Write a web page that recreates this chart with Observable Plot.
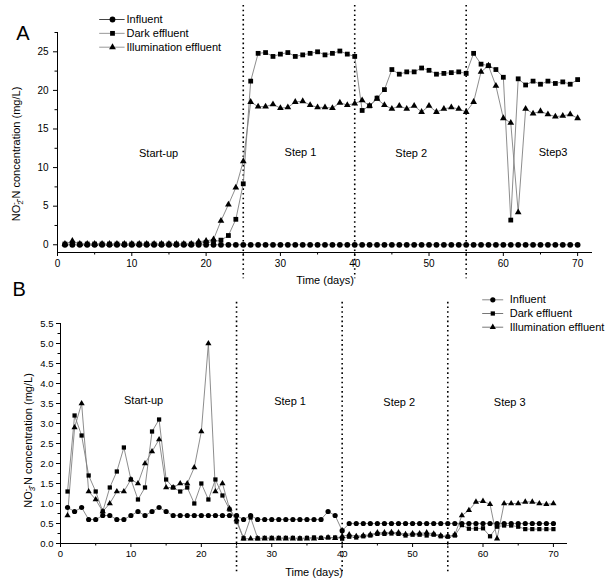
<!DOCTYPE html>
<html><head><meta charset="utf-8">
<script src="https://cdn.jsdelivr.net/npm/d3@7"></script>
<script src="https://cdn.jsdelivr.net/npm/@observablehq/plot@0.6"></script>
<style>
body{margin:0;background:#fff;font-family:"Liberation Sans",Arial,sans-serif;}
#chart{width:614px;height:584px;}
#chart svg{overflow:visible;}
</style></head><body><div id="chart"></div>
<script>
// ---------- data ----------
const days = d3.range(1, 71);
const seriesNames = ["Influent", "Dark effluent", "Illumination effluent"];
const seriesSymbols = ["circle", "square", "triangle"];
const phaseBoundaries = [25, 40, 55];

// Panel A: NO2--N (mg/L)
const influentA = [0,0,0,0,0,0,0,0,0,0,0,0,0,0,0,0,0,0,0,0,0,0,0,0,0,0,0,0,0,0,0,0,0,0,0,0,0,0,0,0,0,0,0,0,0,0,0,0,0,0,0,0,0,0,0,0,0,0,0,0,0,0,0,0,0,0,0,0,0,0];
const darkA = [0.1,0.1,0.1,0.1,0.1,0.1,0.1,0.1,0.1,0.1,0.1,0.1,0.1,0.1,0.1,0.1,0.1,0.1,0.2,0.3,0.4,0.6,1.2,3.3,7.9,
  21.2,24.8,24.9,24.4,24.7,24.9,24.4,24.6,24.8,25.0,24.6,24.8,25.1,24.7,24.4,
  17.4,18.0,19.0,20.1,22.7,22.1,22.4,22.4,22.9,22.6,22.1,22.2,22.3,22.4,22.2,
  24.8,23.4,23.2,22.7,21.7,3.2,21.5,20.7,21.2,20.8,21.2,20.9,21.1,20.8,21.4];
const illumA = [0.1,0.5,0.1,0.1,0.1,0.1,0.1,0.1,0.1,0.1,0.1,0.1,0.1,0.1,0.1,0.1,0.1,0.1,0.4,0.5,0.7,3.1,5.2,7.4,10.8,
  18.5,17.9,17.9,18.2,17.7,17.8,18.5,18.6,18.1,17.8,17.8,17.7,18.4,18.1,18.3,
  18.7,18.0,18.9,18.1,17.6,18.0,17.6,18.0,17.2,18.0,17.2,17.6,17.8,17.6,17.2,
  18.5,22.4,23.2,20.6,16.4,15.8,4.2,17.6,17.0,17.3,16.9,16.6,16.7,16.9,16.4];

// Panel B: NO3--N (mg/L)
const influentB = [0.9,0.8,0.9,0.6,0.6,0.7,0.7,0.6,0.6,0.7,0.8,0.7,0.8,0.9,0.8,0.7,0.7,0.7,0.7,0.7,0.7,0.7,0.7,0.7,0.7,
  0.6,0.7,0.6,0.6,0.6,0.6,0.6,0.6,0.6,0.6,0.6,0.6,0.8,0.7,0.32,
  0.5,0.5,0.5,0.5,0.5,0.5,0.5,0.5,0.5,0.5,0.5,0.5,0.5,0.5,0.5,
  0.5,0.5,0.5,0.5,0.5,0.5,0.5,0.5,0.5,0.5,0.5,0.5,0.5,0.5,0.5];
const darkB = [1.3,3.2,2.7,1.7,1.3,0.8,1.4,1.8,2.4,1.6,1.1,1.4,2.8,3.1,1.6,1.4,1.3,1.4,1.0,1.5,1.1,1.6,1.2,0.85,0.55,
  0.13,0.65,0.13,0.14,0.14,0.14,0.14,0.14,0.13,0.14,0.15,0.14,0.15,0.15,0.12,
  0.17,0.15,0.18,0.2,0.24,0.24,0.25,0.24,0.2,0.22,0.22,0.2,0.22,0.18,0.17,
  0.2,0.46,0.37,0.37,0.38,0.18,0.42,0.45,0.45,0.42,0.36,0.36,0.36,0.36,0.36];
const illumB = [0.7,2.9,3.5,1.3,1.1,0.8,1.0,1.3,1.3,1.6,1.5,2.0,2.3,2.6,1.4,1.4,1.5,1.5,1.9,2.8,5.0,1.3,1.5,0.87,0.6,
  0.12,0.12,0.12,0.12,0.12,0.12,0.12,0.12,0.12,0.12,0.12,0.13,0.15,0.13,0.18,
  0.22,0.18,0.2,0.22,0.27,0.27,0.28,0.27,0.23,0.25,0.25,0.27,0.24,0.2,0.18,
  0.22,0.7,0.83,1.04,1.06,0.98,0.12,1.0,1.0,1.0,1.04,1.04,1.0,0.98,1.0];

const xTicks = [0, 10, 20, 30, 40, 50, 60, 70];
const xMinorTicks = [5, 15, 25, 35, 45, 55, 65];
const yTicksA = [0, 5, 10, 15, 20, 25];
const yMinorA = [2.5, 7.5, 12.5, 17.5, 22.5, 27.5];
const yTicksB = [0, 0.5, 1, 1.5, 2, 2.5, 3, 3.5, 4, 4.5, 5, 5.5];
const yMinorB = [0.25, 0.75, 1.25, 1.75, 2.25, 2.75, 3.25, 3.75, 4.25, 4.75, 5.25];

const phaseNamesA = ["Start-up", "Step 1", "Step 2", "Step3"];
const phaseNamesB = ["Start-up", "Step 1", "Step 2", "Step 3"];

// annotation placement (data coordinates)
const phaseLabelsA = phaseNamesA.map((t, i) => ({t, x: [13.6, 32.7, 47.6, 66.7][i], y: [11.8, 12.0, 11.8, 11.9][i]}));
const phaseLabelsB = phaseNamesB.map((t, i) => ({t, x: [11.8, 32.6, 48.1, 63.8][i], y: [3.58, 3.55, 3.53, 3.53][i]}));

const FONT = "Liberation Sans, Arial, Helvetica, sans-serif";
const hline = half => ({draw(ctx) { ctx.moveTo(-half, 0); ctx.lineTo(half, 0); }});
const centered = {textAnchor: "middle", lineAnchor: "middle"};

function panel(o) {
  const data = o.series.flatMap((vals, k) => vals.map((v, i) => ({day: days[i], value: v, k})));
  const marks = [
    Plot.ruleX(phaseBoundaries, {y1: o.dotY[0], y2: o.dotY[1], stroke: "black", strokeWidth: 1.6, strokeDasharray: "1.6,3.1"}),
    Plot.ruleY([o.yDomain[0]], {stroke: "black", strokeWidth: 1}),
    Plot.ruleX([o.xDomain[0]], {stroke: "black", strokeWidth: 1}),
    Plot.axisX({ticks: xTicks, tickSize: 4, tickPadding: 3, fontSize: o.tickFont, label: null, tickFormat: d => d}),
    Plot.axisX({ticks: xMinorTicks, tickSize: 2.5, tickFormat: () => "", label: null}),
    Plot.axisY({ticks: o.yTicks, tickSize: 4, tickPadding: o.yPad, fontSize: o.tickFont, label: null, tickFormat: o.yFormat}),
    Plot.axisY({ticks: o.yMinor, tickSize: 2.5, tickFormat: () => "", label: null}),
    ...seriesNames.map((n, k) => Plot.line(data.filter(d => d.k === k), {x: "day", y: "value", stroke: "#808080", strokeWidth: 0.9})),
    ...seriesNames.map((n, k) => Plot.dot(data.filter(d => d.k === k), {x: "day", y: "value", symbol: seriesSymbols[k], r: o.r[k], fill: "black", stroke: "none"})),
    Plot.text(o.phaseLabels, {x: "x", y: "y", text: "t", fontSize: 11, fill: "black", ...centered}),
    Plot.text(["Time (days)"], {frameAnchor: "bottom", dy: o.xTitleDy, text: d => d, fontSize: 11, ...centered}),
    Plot.text([o.yTitle], {frameAnchor: "left", dx: o.yTitlePos[0], dy: o.yTitlePos[1], rotate: -90, text: d => d, fontSize: 11, ...centered}),
    Plot.text([o.letter], {frameAnchor: "top-left", dx: o.letterPos[0], dy: o.letterPos[1], text: d => d, fontSize: 20, ...centered})
  ];
  seriesNames.forEach((name, k) => {
    const dy = o.legend.y0 + o.legend.step * k;
    marks.push(
      Plot.dot([name], {frameAnchor: o.legend.anchor, dx: o.legend.lineX, dy, symbol: hline(o.legend.half), r: 1, fill: "none", stroke: o.legend.lineColors[k], strokeWidth: 1}),
      Plot.dot([name], {frameAnchor: o.legend.anchor, dx: o.legend.markX, dy, symbol: seriesSymbols[k], r: o.r[k], fill: "black", stroke: "none"}),
      Plot.text([name], {frameAnchor: o.legend.anchor, dx: o.legend.textX, dy, text: d => d, textAnchor: "start", lineAnchor: "middle", fontSize: 11})
    );
  });
  const svg = Plot.plot({
    width: 614, height: o.height,
    marginLeft: o.m[0], marginRight: o.m[1], marginTop: o.m[2], marginBottom: o.m[3],
    x: {domain: o.xDomain},
    y: {domain: o.yDomain},
    style: {fontFamily: FONT, background: "transparent", overflow: "visible", color: "black"},
    marks
  });
  // chemical subscript / superscript in the y title
  d3.select(svg).selectAll("text").filter(function() { return this.textContent === o.yTitle; }).each(function() {
    const t = d3.select(this);
    t.text("");
    t.append("tspan").text("NO");
    t.append("tspan").attr("dy", 3).attr("font-size", 8).text(o.sub);
    t.append("tspan").attr("dx", -4.6).attr("dy", -7).attr("font-size", 8).text("-");
    t.append("tspan").attr("dy", 4).text("-N concentration (mg/L)");
  });
  return svg;
}

const svgA = panel({
  series: [influentA, darkA, illumA],
  height: 290, m: [57, 22, 32, 38],
  xDomain: [0, 72], yDomain: [-1, 27.5],
  dotY: [31, -4.4],
  yTicks: yTicksA, yMinor: yMinorA, yFormat: d => d, yPad: 5, tickFont: 10,
  r: [2.9, 2.7, 2.5],
  phaseLabels: phaseLabelsA,
  xTitleDy: 28,
  yTitle: "NO2-N concentration (mg/L)", sub: "2", yTitlePos: [-41.5, 11.5],
  letter: "A", letterPos: [-34.5, 1],
  legend: {anchor: "top-left", y0: -13, step: 13.85, lineX: 54.4, half: 12.7, markX: 55, textX: 69, lineColors: ["#444", "#999", "#999"]}
});

const svgB = panel({
  series: [influentB, darkB, illumB],
  height: 294, m: [60, 47, 33, 41],
  xDomain: [0, 72], yDomain: [0, 5.5],
  dotY: [6.03, -0.78],
  yTicks: yTicksB, yMinor: yMinorB, yFormat: d3.format(".1f"), yPad: 3, tickFont: 9.5,
  r: [2.6, 2.4, 2.3],
  phaseLabels: phaseLabelsB,
  xTitleDy: 29,
  yTitle: "NO3-N concentration (mg/L)", sub: "3", yTitlePos: [-32, 7],
  letter: "B", letterPos: [-41.3, -34],
  legend: {anchor: "top-right", y0: -23.7, step: 13.7, lineX: -74.8, half: 10.5, markX: -74.7, textX: -57.7, lineColors: ["#888", "#777", "#777"]}
});

const chart = document.getElementById("chart");
chart.append(svgA, svgB);
</script></body></html>
